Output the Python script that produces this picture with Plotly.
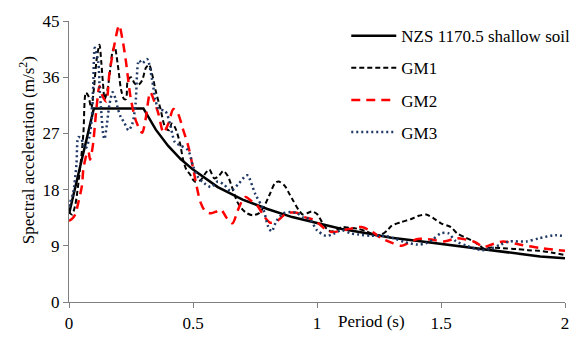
import plotly.graph_objects as go

# NZS 1170.5 shallow soil design spectrum
nzs_T = [0.0, 0.1, 0.3, 0.35, 0.4, 0.45, 0.5, 0.6, 0.7, 0.8, 0.9, 1.0, 1.1, 1.2, 1.3, 1.4, 1.5, 1.6, 1.7, 1.8, 1.9, 2.0]
nzs_A = [14.1, 31.0, 31.0, 27.6, 25.0, 22.9, 21.2, 18.4, 16.4, 14.9, 13.6, 12.6, 11.7, 11.0, 10.3, 9.8, 9.3, 8.7, 8.2, 7.75, 7.3, 7.0]

gm1_T = [0, 0.012, 0.025, 0.045, 0.058, 0.068, 0.078, 0.09, 0.1, 0.112, 0.123, 0.13, 0.137, 0.144, 0.155, 0.164,
         0.175, 0.184, 0.197, 0.21, 0.222, 0.23, 0.237, 0.25, 0.265, 0.28, 0.295, 0.31, 0.323, 0.335, 0.349,
         0.369, 0.388, 0.405, 0.414, 0.427, 0.447, 0.46, 0.473, 0.487, 0.507, 0.53, 0.55, 0.566, 0.586, 0.605,
         0.622, 0.64, 0.652, 0.679, 0.7, 0.718, 0.74, 0.765, 0.785, 0.81, 0.83, 0.845, 0.87, 0.89, 0.903, 0.925,
         0.943, 0.965, 0.98, 1.0, 1.02, 1.04, 1.056, 1.08, 1.1, 1.13, 1.168, 1.2, 1.234, 1.26, 1.287, 1.3, 1.34,
         1.38, 1.41, 1.44, 1.47, 1.5, 1.54, 1.565, 1.6, 1.631, 1.66, 1.677, 1.697, 1.75, 1.803, 1.85, 1.895, 1.95, 2.0]
gm1_A = [14.5, 14.0, 15.5, 21.5, 27.0, 33.5, 33.0, 31.0, 34.0, 39.0, 41.2, 38.5, 35.0, 32.5, 34.0, 36.5,
         40.0, 40.9, 37.9, 34.0, 32.5, 32.5, 35.5, 36.0, 35.0, 34.8, 35.5, 37.5, 38.0, 36.5, 33.9,
         30.9, 28.0, 27.5, 28.6, 28.0, 25.5, 22.8, 21.2, 20.5, 19.3, 19.5, 20.6, 21.2, 19.8, 20.2,
         21.0, 20.2, 19.0, 16.0, 14.8, 14.2, 13.9, 14.2, 15.2, 17.3, 19.0, 19.3, 18.6, 17.2, 16.3, 14.8,
         14.0, 14.3, 14.5, 14.1, 12.8, 11.7, 11.3, 11.6, 12.0, 11.9, 11.7, 11.3, 10.7, 10.8, 11.6, 12.2, 12.8,
         13.3, 13.8, 14.0, 13.4, 12.6, 12.0, 11.0, 10.3, 9.7, 8.9, 8.5, 8.7, 8.6, 8.5, 8.3, 8.2, 7.9, 7.5]

gm2_T = [0, 0.012, 0.025, 0.038, 0.052, 0.058, 0.07, 0.078, 0.085, 0.092, 0.098, 0.104, 0.112, 0.123, 0.136,
         0.15, 0.163, 0.183, 0.202, 0.215, 0.229, 0.249, 0.27, 0.295, 0.308, 0.328, 0.345, 0.361, 0.381, 0.4,
         0.421, 0.44, 0.46, 0.48, 0.5, 0.515, 0.53, 0.55, 0.573, 0.595, 0.613, 0.635, 0.659, 0.679, 0.698,
         0.712, 0.735, 0.758, 0.785, 0.811, 0.84, 0.877, 0.917, 0.956, 0.985, 1.009, 1.035, 1.062, 1.12, 1.18,
         1.22, 1.26, 1.3, 1.34, 1.37, 1.406, 1.46, 1.512, 1.565, 1.6, 1.638, 1.671, 1.71, 1.75, 1.816, 1.909, 2.0]
gm2_A = [13.0, 13.3, 14.0, 16.0, 18.6, 21.3, 23.5, 24.1, 22.8, 24.0, 25.6, 28.1, 31.5, 34.6, 32.9,
         32.1, 36.6, 41.2, 44.3, 42.2, 38.7, 32.6, 29.0, 27.1, 29.1, 33.6, 32.0, 30.1, 27.1, 28.5,
         30.9, 30.1, 27.6, 25.1, 21.5, 18.5, 16.0, 14.5, 14.2, 14.5, 14.8, 13.5, 12.6, 14.5, 16.2,
         16.8, 16.2, 15.5, 13.8, 12.7, 13.0, 14.2, 14.3, 13.5, 13.2, 12.5, 11.6, 11.2, 11.6, 12.0,
         11.3, 10.2, 9.5, 9.0, 9.5, 10.1, 10.0, 9.7, 10.2, 10.0, 9.6, 8.8, 9.3, 9.7, 9.2, 8.6, 8.2]

gm3_T = [0, 0.005, 0.017, 0.03, 0.038, 0.05, 0.063, 0.071, 0.083, 0.092, 0.098, 0.104, 0.118, 0.124, 0.131,
         0.137, 0.143, 0.153, 0.163, 0.176, 0.188, 0.196, 0.209, 0.222, 0.24, 0.255, 0.268, 0.282, 0.295, 0.315,
         0.335, 0.348, 0.361, 0.388, 0.407, 0.427, 0.447, 0.48, 0.5, 0.52, 0.546, 0.573, 0.6, 0.625, 0.652,
         0.685, 0.718, 0.751, 0.784, 0.804, 0.817, 0.837, 0.864, 0.89, 0.917, 0.945, 0.97, 1.0, 1.036, 1.065,
         1.1, 1.135, 1.168, 1.22, 1.274, 1.31, 1.353, 1.406, 1.44, 1.466, 1.5, 1.53, 1.558, 1.604, 1.664, 1.697,
         1.74, 1.776, 1.843, 1.895, 1.961, 2.0]
gm3_A = [15.3, 16.0, 17.5, 22.0, 26.4, 26.1, 24.6, 24.8, 26.6, 29.6, 35.0, 40.7, 38.4, 33.9, 30.0,
         27.1, 26.1, 28.5, 31.6, 33.6, 32.5, 31.1, 29.6, 28.8, 27.5, 28.5, 31.6, 38.7, 38.2, 38.9,
         35.6, 32.5, 30.9, 30.6, 28.6, 25.6, 25.1, 24.3, 21.8, 20.0, 19.0, 18.4, 19.3, 18.8, 17.8,
         19.0, 20.3, 17.3, 14.8, 12.0, 11.3, 13.0, 14.2, 14.4, 14.3, 13.5, 13.3, 11.5, 10.6, 10.9,
         11.5, 11.0, 10.8, 10.6, 10.6, 10.2, 9.6, 9.2, 9.4, 10.0, 11.0, 11.0, 9.8, 9.0, 8.3, 8.5,
         9.2, 9.7, 9.7, 10.2, 10.7, 10.5]

x_ticks = [0, 0.5, 1, 1.5, 2]
x_tick_text = ["0", "0.5", "1", "1.5", "2"]
y_ticks = [0, 9, 18, 27, 36, 45]

FONT = "Liberation Serif"
FS = 17

fig = go.Figure()
fig.add_trace(go.Scatter(x=nzs_T, y=nzs_A, mode="lines", name="NZS 1170.5 shallow soil",
                         legendgroup="a", line=dict(color="black", width=2.5)))
fig.add_trace(go.Scatter(x=gm1_T, y=gm1_A, mode="lines", name="GM1", legendgroup="b",
                         line=dict(color="black", width=2, dash="5px,3px", shape="spline", smoothing=0.8)))
fig.add_trace(go.Scatter(x=gm2_T, y=gm2_A, mode="lines", name="GM2", legendgroup="c",
                         line=dict(color="#FF0000", width=2.5, dash="9px,6px", shape="spline", smoothing=0.8)))
fig.add_trace(go.Scatter(x=gm3_T, y=gm3_A, mode="lines", name="GM3", legendgroup="d",
                         line=dict(color="#1F3864", width=2.5, dash="2px,3px", shape="spline", smoothing=0.8)))

axis_color = "#7f7f7f"
fig.update_layout(
    width=587, height=345,
    margin=dict(l=69, r=14, t=18, b=29),
    plot_bgcolor="white", paper_bgcolor="white",
    font=dict(family=FONT, size=FS, color="black"),
    showlegend=True,
    legend=dict(x=0.559, y=1.01, xanchor="left", yanchor="top", bgcolor="rgba(0,0,0,0)",
                font=dict(family=FONT, size=FS), tracegroupgap=7, itemwidth=45),
    xaxis=dict(range=[0, 2], tickvals=x_ticks, ticktext=x_tick_text, showgrid=False, zeroline=False,
               showline=True, linecolor=axis_color, linewidth=1.3, ticks="outside", ticklen=5,
               tickcolor=axis_color, tickfont=dict(family=FONT, size=FS)),
    yaxis=dict(range=[0, 45], tickvals=y_ticks, showgrid=False, zeroline=False,
               showline=True, linecolor=axis_color, linewidth=1.3, ticks="outside", ticklen=5,
               tickcolor=axis_color, tickfont=dict(family=FONT, size=FS)),
    annotations=[
        dict(text="Period (s)", xref="paper", yref="paper", x=0.61, y=0, yshift=-19,
             xanchor="center", yanchor="middle", showarrow=False, font=dict(family=FONT, size=FS)),
        dict(text="Spectral acceleration (m/s<sup>2</sup>)", xref="paper", yref="paper",
             x=0, xshift=-42, y=0.54, textangle=-90, xanchor="center", yanchor="middle",
             showarrow=False, font=dict(family=FONT, size=FS)),
    ],
)

fig.write_html("out.html")
